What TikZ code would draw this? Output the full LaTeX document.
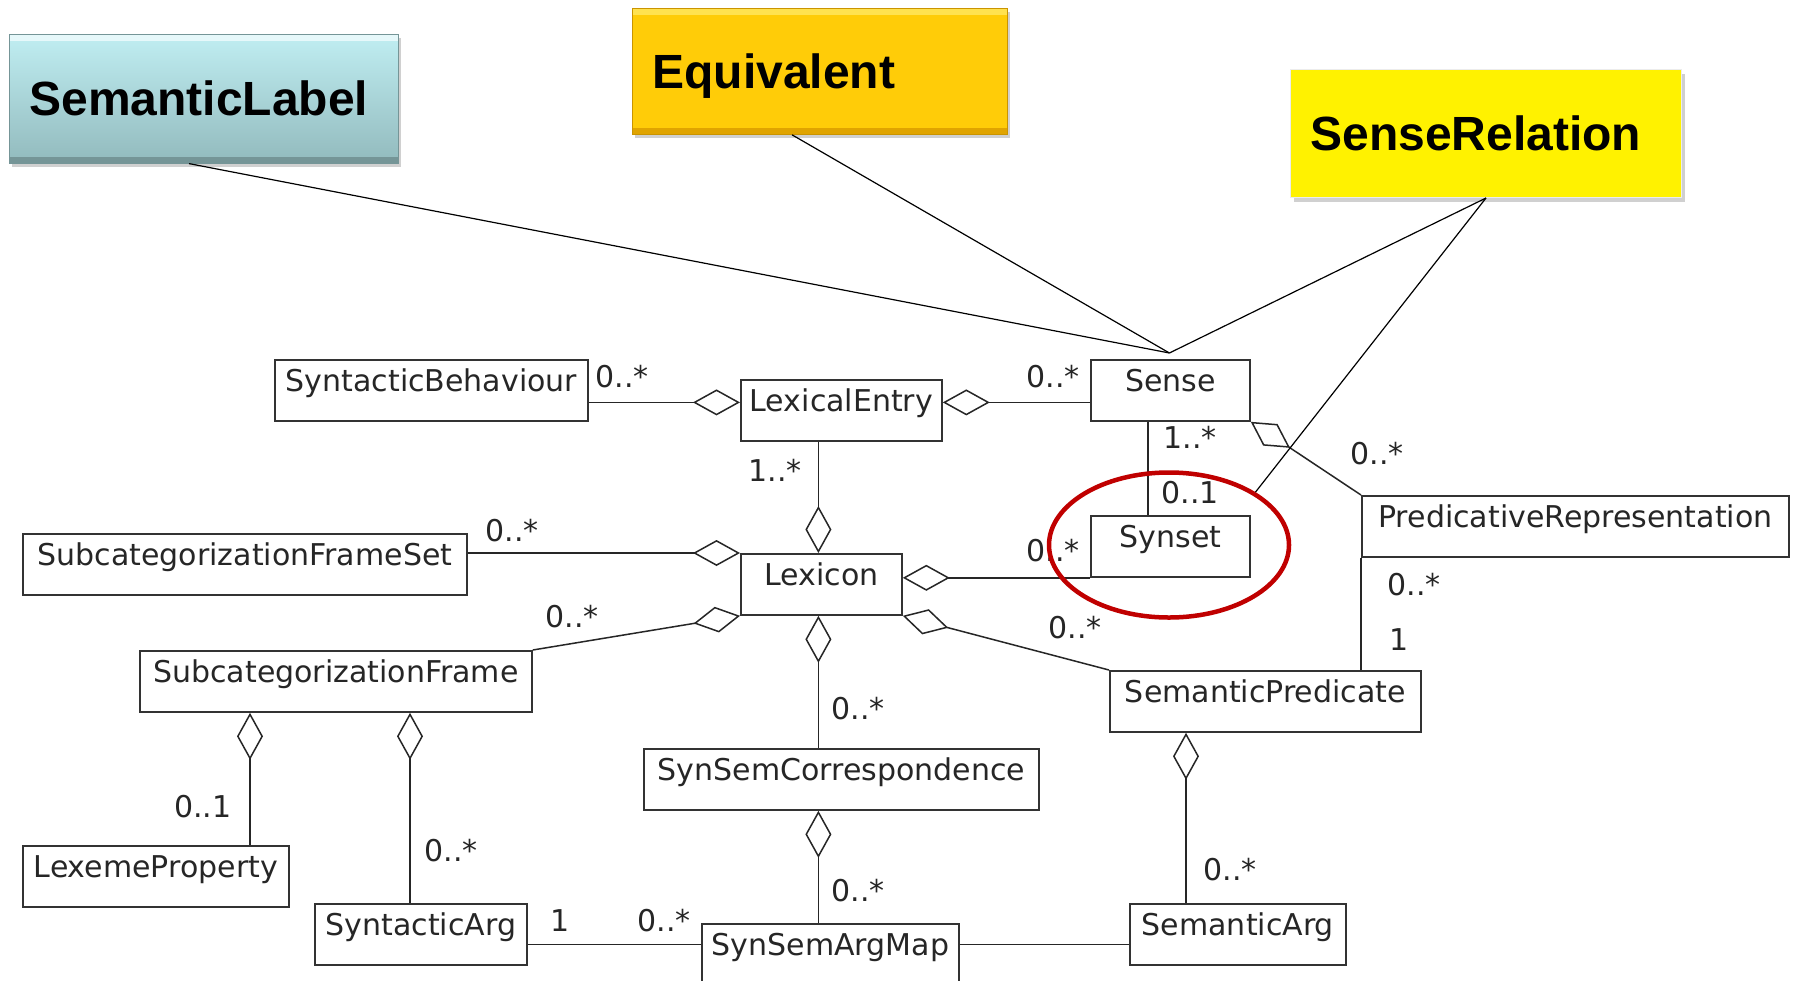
\documentclass[tikz,border=0pt]{standalone}
\usepackage{fontspec}
\setmainfont{DejaVu Sans}
\newfontfamily\calloutfont{Liberation Sans}
\usetikzlibrary{arrows.meta,shadows,calc,shapes.geometric}
\newcommand\umlfont{\fontsize{30}{36}\selectfont}
\definecolor{markred}{RGB}{192,0,0}
\definecolor{labeltop}{RGB}{192,238,242}
\definecolor{labelbot}{RGB}{146,186,189}
\definecolor{equivfill}{RGB}{255,204,8}
\definecolor{equivlight}{RGB}{255,226,80}
\definecolor{equivdark}{RGB}{224,164,0}
\begin{document}
\begin{tikzpicture}[x=1pt,y=-1pt,
  umlclass/.style={draw=black!80, line width=1.8pt, fill=white, anchor=north west,
    inner xsep=0pt, inner ysep=0pt, text height=32pt, text depth=29pt, font=\umlfont,
    text=black!85,
    drop shadow={shadow xshift=1.5pt, shadow yshift=-1.5pt, opacity=0.2}},
  mult/.style={font=\umlfont, inner sep=0pt, text=black!85},
  link/.style={draw=black!85, line width=1.5pt},
  agg/.style={link, {Diamond[open, length=47pt, width=26pt]}-},
  callline/.style={draw=black, line width=1.2pt},
  callout/.style={anchor=north west, inner xsep=20pt, inner ysep=0pt, align=left,
    font=\calloutfont\bfseries\fontsize{48}{56}\selectfont,
    drop shadow={shadow xshift=3pt, shadow yshift=-4pt, opacity=0.3, fill=black!60}},
  bevel/.style args={#1 and #2}{path picture={
    \fill[#1] (path picture bounding box.north west) rectangle ([yshift=-7pt]path picture bounding box.north east);
    \fill[#2] ([yshift=6pt]path picture bounding box.south west) rectangle (path picture bounding box.south east);
  }},
]
\fill[white] (0,0) rectangle (1795,980);
\useasboundingbox (0,0) rectangle (1795,980);

% class boxes
\node[umlclass, minimum width=313pt] (sb)     at (274,359)  {SyntacticBehaviour};
\node[umlclass, minimum width=201pt] (le)     at (740,379)  {LexicalEntry};
\node[umlclass, minimum width=159pt] (sense)  at (1090,359) {Sense};
\node[umlclass, minimum width=444pt] (sfs)    at (22,533)   {SubcategorizationFrameSet};
\node[umlclass, minimum width=161pt] (lex)    at (740,553)  {Lexicon};
\node[umlclass, minimum width=159pt] (synset) at (1090,515) {Synset};
\node[umlclass, minimum width=427pt] (pr)     at (1361,495) {PredicativeRepresentation};
\node[umlclass, minimum width=392pt] (sf)     at (139,650)  {SubcategorizationFrame};
\node[umlclass, minimum width=311pt] (sp)     at (1109,670) {SemanticPredicate};
\node[umlclass, minimum width=395pt] (ssc)    at (643,748)  {SynSemCorrespondence};
\node[umlclass, minimum width=266pt] (lp)     at (22,845)   {LexemeProperty};
\node[umlclass, minimum width=212pt] (sa)     at (314,903)  {SyntacticArg};
\node[umlclass, minimum width=257pt] (ssam)   at (701,923)  {SynSemArgMap};
\node[umlclass, minimum width=216pt] (sarg)   at (1129,903) {SemanticArg};

% attachment points
\coordinate (le-sb)   at ($(le.west)+(0,-8)$);
\coordinate (le-se)   at ($(le.east)+(0,-8)$);
\coordinate (lex-le)  at ($(lex.north)+(-3,0)$);
\coordinate (lex-ssc) at ($(lex.south)+(-3,0)$);
\coordinate (sf-lp)   at ($(sf.south west)+(111,0)$);
\coordinate (sf-sa)   at ($(sf.south west)+(271,0)$);
\coordinate (sa-ssam) at ($(sa.east)+(0,10)$);
\coordinate (sp-sarg) at ($(sp.south west)+(77,0)$);
\coordinate (se-syn)  at ($(sense.south west)+(58,0)$);

% associations
\draw[agg] (le-sb) -- (sb.east |- le-sb);
\draw[agg] (le-se) -- (sense.west |- le-se);
\draw[agg] (lex-le) -- (le.south -| lex-le);
\draw[agg] (lex.north west) -- (sfs.east |- lex.north west);
\draw[agg] (lex.south west) -- (sf.north east);
\draw[agg] (lex.east |- synset.south west) -- (synset.south west);
\draw[agg] (lex.south east) -- (sp.north west);
\draw[agg] (lex-ssc) -- (ssc.north -| lex-ssc);
\draw[agg] (ssc.south -| lex-ssc) -- (ssam.north -| lex-ssc);
\draw[agg] (sf-lp) -- (lp.north -| sf-lp);
\draw[agg] (sf-sa) -- (sa.north -| sf-sa);
\draw[agg] (sp-sarg) -- (sarg.north -| sp-sarg);
\draw[agg] (sense.south east) -- (pr.north west);
\draw[link] (sa-ssam) -- (ssam.west |- sa-ssam);
\draw[link] (ssam.east |- sa-ssam) -- (sarg.west |- sa-ssam);
\draw[link] (pr.south west) -- (sp.north -| pr.south west);
\draw[link] (se-syn) -- (synset.north -| se-syn);

% multiplicities
\node[mult] (m1)  at (622,377)  {0..*};
\node[mult] (m2)  at (1053,377) {0..*};
\node[mult] (m3)  at (775,470)  {1..*};
\node[mult] (m4)  at (512,531)  {0..*};
\node[mult] (m5)  at (572,617)  {0..*};
\node[mult] (m6)  at (1053,551) {0..*};
\node[mult] (m7)  at (1075,628) {0..*};
\node[mult] (m8)  at (858,709)  {0..*};
\node[mult] (m9)  at (858,891)  {0..*};
\node[mult] (m10) at (203,807)  {0..1};
\node[mult] (m11) at (451,851)  {0..*};
\node[mult] (m12) at (560,921)  {1};
\node[mult] (m13) at (664,921)  {0..*};
\node[mult] (m14) at (1230,870) {0..*};
\node[mult] (m15) at (1414,585) {0..*};
\node[mult] (m16) at (1399,640) {1};
\node[mult] (m17) at (1377,454) {0..*};
\node[mult] (m18) at (1190,437) {1..*};
\node[mult] (m19) at (1190,493) {0..1};

% highlight round Synset
\node[ellipse, draw=markred, line width=4.5pt, minimum width=240pt, minimum height=145pt,
  inner sep=0pt] (mark) at (1169,545) {};

% callouts
\node[callout, text width=349pt, minimum height=129pt, top color=labeltop, bottom color=labelbot,
  bevel={white!60!labeltop and labelbot!80!black}, draw=labelbot!80!black, line width=0.6pt]
  (semlabel) at (9,34) {SemanticLabel};
\node[callout, text width=335pt, minimum height=126pt, fill=equivfill,
  bevel={equivlight and equivdark}, draw=equivdark!90!black, line width=0.8pt]
  (equiv) at (632,8) {\raisebox{-5pt}[\height][\depth]{Equivalent}};
\node[callout, text width=351pt, minimum height=128pt, fill=yellow, draw=white!85!gray,
  line width=1pt] (senserel) at (1290,69) {SenseRelation};

\coordinate (tip) at ($(sense.north)+(-1,-6)$);
\draw[callline] ($(semlabel.south west)+(180,0)$) -- (tip);
\draw[callline] ($(equiv.south west)+(160,0)$) -- (tip);
\draw[callline] ($(senserel.south west)+(196,0)$) -- (tip);
\draw[callline] ($(senserel.south west)+(196,0)$) -- (mark.north east);
\end{tikzpicture}
\end{document}
